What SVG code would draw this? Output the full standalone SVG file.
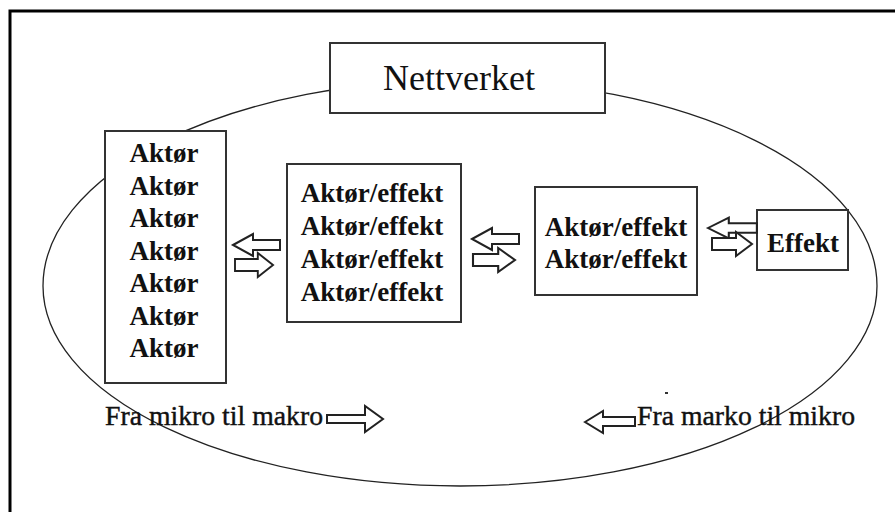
<svg xmlns="http://www.w3.org/2000/svg" width="895" height="512" viewBox="0 0 895 512">
<style>
.box{fill:#fff;stroke:#333;stroke-width:2}
.bt{font-family:"Liberation Serif","Times New Roman",serif;font-weight:bold;font-size:27px;fill:#111;text-anchor:middle}
.rt{font-family:"Liberation Serif","Times New Roman",serif;font-size:27px;fill:#111;stroke:#111;stroke-width:0.4}
.arr{fill:#fff;stroke:#222;stroke-width:2;stroke-linejoin:miter}
</style>
<defs>
<path id="la" d="M0,0 L20,-11 L20,-5 L47,-5 L47,5 L20,5 L20,11 Z"/>
<path id="ra" d="M0,-6 L24,-6 L24,-12 L40,0 L24,12 L24,6 L0,6 Z"/>
</defs>
<rect width="895" height="512" fill="#fff"/>
<path d="M10,512 L10,11 L895,11" fill="none" stroke="#000" stroke-width="3"/>
<g id="ellipse">
<path d="M43,286 A417,206 0 0 1 877,286 A417,200 0 0 1 43,286 Z" fill="none" stroke="#222" stroke-width="1.3"/>
</g>
<g id="nettverket">
<rect class="box" x="330" y="43" width="275" height="70"/>
<text x="459" y="90" font-family="Liberation Serif,'Times New Roman',serif" font-size="36" fill="#111" text-anchor="middle">Nettverket</text>
</g>
<g id="aktorer">
<rect class="box" x="105" y="131" width="121" height="252"/>
<text class="bt" x="164" y="162">Aktør</text>
<text class="bt" x="164" y="194.5">Aktør</text>
<text class="bt" x="164" y="227">Aktør</text>
<text class="bt" x="164" y="259.5">Aktør</text>
<text class="bt" x="164" y="292">Aktør</text>
<text class="bt" x="164" y="324.5">Aktør</text>
<text class="bt" x="164" y="357">Aktør</text>
</g>
<g id="aktor-effekt-4">
<rect class="box" x="287" y="164" width="174" height="158"/>
<text class="bt" x="372" y="202">Aktør/effekt</text>
<text class="bt" x="372" y="235">Aktør/effekt</text>
<text class="bt" x="372" y="268">Aktør/effekt</text>
<text class="bt" x="372" y="301">Aktør/effekt</text>
</g>
<g id="aktor-effekt-2">
<rect class="box" x="535" y="187" width="162" height="108"/>
<text class="bt" x="616" y="236">Aktør/effekt</text>
<text class="bt" x="616" y="268">Aktør/effekt</text>
</g>
<g id="effekt">
<rect class="box" x="757" y="210" width="91" height="60"/>
<text class="bt" x="803" y="252">Effekt</text>
</g>
<g id="connectors">
<use href="#la" class="arr" transform="translate(233,245)"/>
<use href="#ra" class="arr" transform="translate(235,265) scale(0.95,1)"/>
<use href="#la" class="arr" transform="translate(472,239)"/>
<use href="#ra" class="arr" transform="translate(473,260) scale(1.05,1)"/>
<use href="#la" class="arr" transform="translate(708,228) scale(1.04,0.95)"/>
<use href="#ra" class="arr" transform="translate(712,244)"/>
<path class="arr" d="M327,415 L365,415 L365,406 L383,419 L365,432 L365,423 L327,423 Z"/>
<path class="arr" d="M585,422 L603,411 L603,417 L635,417 L635,426 L603,426 L603,433 Z"/>
</g>
<g id="labels">
<text class="rt" x="105" y="425" textLength="218" lengthAdjust="spacingAndGlyphs">Fra mikro til makro</text>
<text class="rt" x="637" y="425" textLength="218" lengthAdjust="spacingAndGlyphs">Fra marko til mikro</text>
<rect x="665" y="392" width="3" height="2" fill="#333"/>
</g>
</svg>
